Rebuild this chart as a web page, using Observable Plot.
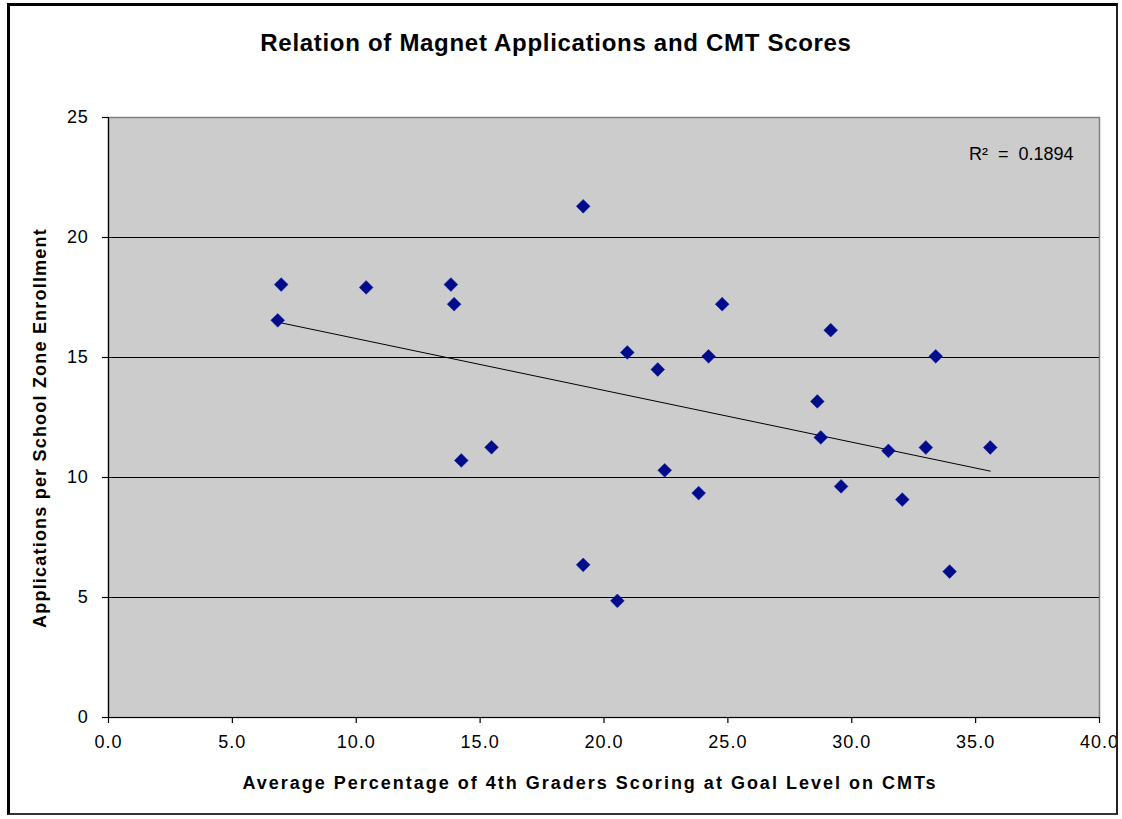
<!DOCTYPE html>
<html>
<head>
<meta charset="utf-8">
<script src="https://cdn.jsdelivr.net/npm/d3@7"></script>
<script src="https://cdn.jsdelivr.net/npm/@observablehq/plot@0.6"></script>
<style>
  html, body { margin: 0; padding: 0; background: #fff; }
  #wrap { position: relative; width: 1122px; height: 819px; overflow: hidden; font-family: "Liberation Sans", Arial, sans-serif; }
  #border { position: absolute; left: 7px; top: 3px; width: 1111px; height: 812px; border-left: 3px solid #000; border-top: 3px solid #000; border-right: 2px solid #222; border-bottom: 2px solid #333; box-sizing: border-box; }
  #title { position: absolute; left: 0; width: 1112px; top: 29px; text-align: center; font-weight: bold; font-size: 24px; letter-spacing: 0.7px; color: #000; }
  #xtitle { position: absolute; left: 90px; width: 1000px; top: 772px; line-height: 22px; text-align: center; font-weight: bold; font-size: 18px; letter-spacing: 2px; color: #000; }
  #ytitle { position: absolute; left: 40px; top: 428px; width: 600px; margin-left: -300px; line-height: 22px; margin-top: -11px; text-align: center; font-weight: bold; font-size: 18px; letter-spacing: 1.2px; color: #000; transform: rotate(-90deg); }
  #chart { position: absolute; left: 0; top: 0; }
</style>
</head>
<body>
<div id="wrap">
  <div id="chart"></div>
  <div id="border"></div>
  <div id="title">Relation of Magnet Applications and CMT Scores</div>
  <div id="xtitle"></div>
  <div id="ytitle"></div>
</div>
<script>
// Average percentage of 4th graders scoring at goal level on CMTs
const cmtPct = [6.97, 6.83, 10.40, 13.82, 13.95, 14.24, 15.46, 19.16, 19.16, 20.54, 20.94, 22.17, 22.45,
                23.82, 24.22, 24.77, 28.61, 28.75, 29.15, 29.57, 31.48, 32.04, 32.99, 33.39, 33.95, 35.59];
// Applications per school zone enrollment
const appsPerEnroll = [18.04, 16.55, 17.92, 18.04, 17.22, 10.71, 11.26, 21.30, 6.36, 4.86, 15.21, 14.50, 10.30,
                       9.35, 15.05, 17.22, 13.17, 11.67, 16.14, 9.63, 11.11, 9.08, 11.25, 15.05, 6.08, 11.25];
const xTicks = [0, 5, 10, 15, 20, 25, 30, 35, 40];
const yTicks = [0, 5, 10, 15, 20, 25];
const gridY = [5, 10, 15, 20];
const r2Label = "R\u00B2\u00A0\u00A0=\u00A0\u00A00.1894";
const xTitle = "Average Percentage of 4th Graders Scoring at Goal Level on CMTs";
const yTitle = "Applications per School Zone Enrollment";

document.getElementById("xtitle").textContent = xTitle;
document.getElementById("ytitle").textContent = yTitle;

const data = cmtPct.map((x, i) => ({x, y: appsPerEnroll[i]}));

const chart = Plot.plot({
  width: 1122,
  height: 819,
  marginLeft: 108,
  marginRight: 23,
  marginTop: 117,
  marginBottom: 102,
  style: {fontFamily: "Liberation Sans, Arial, sans-serif", fontSize: "18px", background: "transparent", color: "#000"},
  x: {domain: [0, 40], label: null},
  y: {domain: [0, 25], label: null},
  marks: [
    Plot.frame({fill: "#cccccc", stroke: "#808080", strokeWidth: 1.5}),
    Plot.ruleY(gridY, {stroke: "#000", strokeWidth: 1.2}),
    Plot.ruleX([0], {stroke: "#000", strokeWidth: 1.2}),
    Plot.ruleY([0], {stroke: "#000", strokeWidth: 1.2}),
    Plot.axisX({ticks: xTicks, tickFormat: d3.format(".1f"), tickSize: 6, tickPadding: 12, label: null, stroke: "#000", strokeWidth: 1.2}),
    Plot.axisY({ticks: yTicks, tickSize: 6, tickPadding: 14, label: null, stroke: "#000", strokeWidth: 1.2}),
    Plot.linearRegressionY(data, {x: "x", y: "y", stroke: "#000", strokeWidth: 1, ci: 0}),
    Plot.dot(data, {x: "x", y: "y", symbol: "diamond2", r: 6.2, fill: "#000c8c", stroke: "#001a99", strokeWidth: 0.5}),
    Plot.text([r2Label], {frameAnchor: "top-right", dx: -26, dy: 30, fontSize: 18, textAnchor: "end", fill: "#000"})
  ]
});
// letter spacing for tick labels (style only)
d3.select(chart).selectAll("text").each(function() {
  const t = this.textContent;
  if (/^\d+\.\d$/.test(t)) this.setAttribute("letter-spacing", "1");
  else if (/^\d+$/.test(t)) this.setAttribute("letter-spacing", "0.8");
});
document.getElementById("chart").appendChild(chart);
</script>
</body>
</html>
